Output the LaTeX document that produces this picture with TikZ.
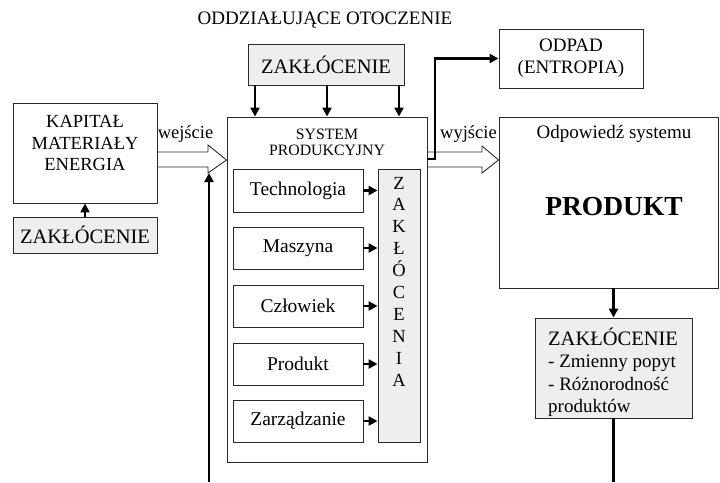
\documentclass[tikz,border=0pt]{standalone}
\usepackage{fontspec}
\setmainfont{Liberation Serif}
\usetikzlibrary{arrows.meta,calc}
\definecolor{bord}{HTML}{2A2A2A}
\definecolor{zfill}{HTML}{EEEEEE}
\newcommand{\fsz}[2]{\fontsize{#1}{#2}\selectfont}
\begin{document}
\begin{tikzpicture}[x=1pt,y=-1pt,
  box/.style={draw=bord,line width=0.9pt,inner sep=0pt,align=center},
  zbox/.style={box,fill=zfill},
  lbl/.style={inner sep=0pt,align=center},
  thk/.style={line width=2.4pt,-{Triangle[length=9pt,width=9pt]}},
  thin/.style={line width=2.4pt},
  hollow/.style={draw=bord,line width=0.9pt,line join=miter}
]
\useasboundingbox (0,0) rectangle (720,482);

% title
\node[lbl,font=\fsz{19}{22}] (title) at (325,20) {ODDZIAŁUJĄCE OTOCZENIE};

% left side
\node[box,minimum width=144pt,minimum height=100pt] (kap) at (85,153) {};
\node[lbl,font=\fsz{18.5}{21.5}] (kaptxt) at (85,143) {KAPITAŁ\\MATERIAŁY\\ENERGIA};
\node[zbox,minimum width=144pt,minimum height=36pt,font=\fsz{20.5}{24}] (zl) at (85,235) {ZAKŁÓCENIE};

% top disturbance
\node[zbox,minimum width=156pt,minimum height=41pt,font=\fsz{20.5}{24}] (ztop) at (326,64.5) {ZAKŁÓCENIE};

% system
\node[box,minimum width=200pt,minimum height=345pt] (sys) at (327,289.5) {};
\node[lbl,font=\fsz{15.8}{16}] (systxt) at (327,142) {SYSTEM\\PRODUKCYJNY};

\node[box,minimum width=130pt,minimum height=43pt,font=\fsz{19.5}{22}] (tech) at (298,190.5) {Technologia};
\node[box,minimum width=130pt,minimum height=42pt,font=\fsz{19.5}{22}] (masz) at (298,248) {Maszyna};
\node[box,minimum width=130pt,minimum height=42pt,font=\fsz{19.5}{22}] (czl) at (298,306) {Człowiek};
\node[box,minimum width=130pt,minimum height=42pt,font=\fsz{19.5}{22}] (prod) at (298,364) {Produkt};
\node[box,minimum width=130pt,minimum height=42pt,font=\fsz{19.5}{22}] (zarz) at (298,421) {Zarządzanie};

\node[zbox,minimum width=42pt,minimum height=273pt] (zv) at (399,305.5) {};
\node[lbl,font=\fsz{18.5}{21.9}] (zvtxt) at (399,281.5) {Z\\A\\K\\Ł\\Ó\\C\\E\\N\\I\\A};

% right side
\node[box,minimum width=144pt,minimum height=59pt,font=\fsz{19}{22}] (odpad) at (571,58.5) {ODPAD\\(ENTROPIA)};
\node[box,minimum width=219pt,minimum height=171pt] (out) at (608.5,202.5) {};
\node[lbl,font=\fsz{19}{22}] (odptxt) at (614,134) {Odpowiedź systemu};
\node[lbl,font=\fsz{27.5}{30}\bfseries] (prodtxt) at (614,207) {PRODUKT};
\node[zbox,minimum width=157pt,minimum height=100pt] (zr) at (613.5,368) {};
\node[lbl,align=left,anchor=west,font=\fsz{19}{22.5}] (zrtxt) at (548,372)
  {{\fsz{20.5}{22.5}ZAKŁÓCENIE}\\- Zmienny popyt\\- Różnorodność\\produktów};

% labels
\node[lbl,font=\fsz{18.5}{22}] (wej) at (185.5,134) {wejście};
\node[lbl,font=\fsz{18.5}{22}] (wyj) at (468.5,134) {wyjście};

% hollow arrows
\draw[hollow] (kap.east |- 0,152) -- (208,152) -- (208,145) -- (sys.west |- 0,160) -- (208,173) -- (208,167) -- (kap.east |- 0,167);
\draw[hollow] (sys.east |- 0,152) -- (482,152) -- (482,146) -- (out.west |- 0,160) -- (482,173) -- (482,167) -- (sys.east |- 0,167);

% arrows
\draw[thk] (zl.north) -- (kap.south);
\foreach \xx in {255,327,399} \draw[thk] (ztop.south -| \xx,0) -- (sys.north -| \xx,0);
\foreach \nn in {tech,masz,czl,prod,zarz} \draw[thk] (\nn.east) -- (\nn.east -| zv.west);
\coordinate (bin) at (209,482);
\coordinate (inhead) at (209,173);
\draw[thk] (bin) -- (inhead);
\coordinate (w1) at (435,159);
\coordinate (w2) at (435,58.5);
\draw[thk] (sys.east |- w1) -- (w1) -- (w2) -- (odpad.west);
\draw[thk] (out.south -| zr.north) -- (zr.north);
\coordinate (bout) at (613.5,482);
\draw[thin] (zr.south) -- (bout);
\end{tikzpicture}
\end{document}
